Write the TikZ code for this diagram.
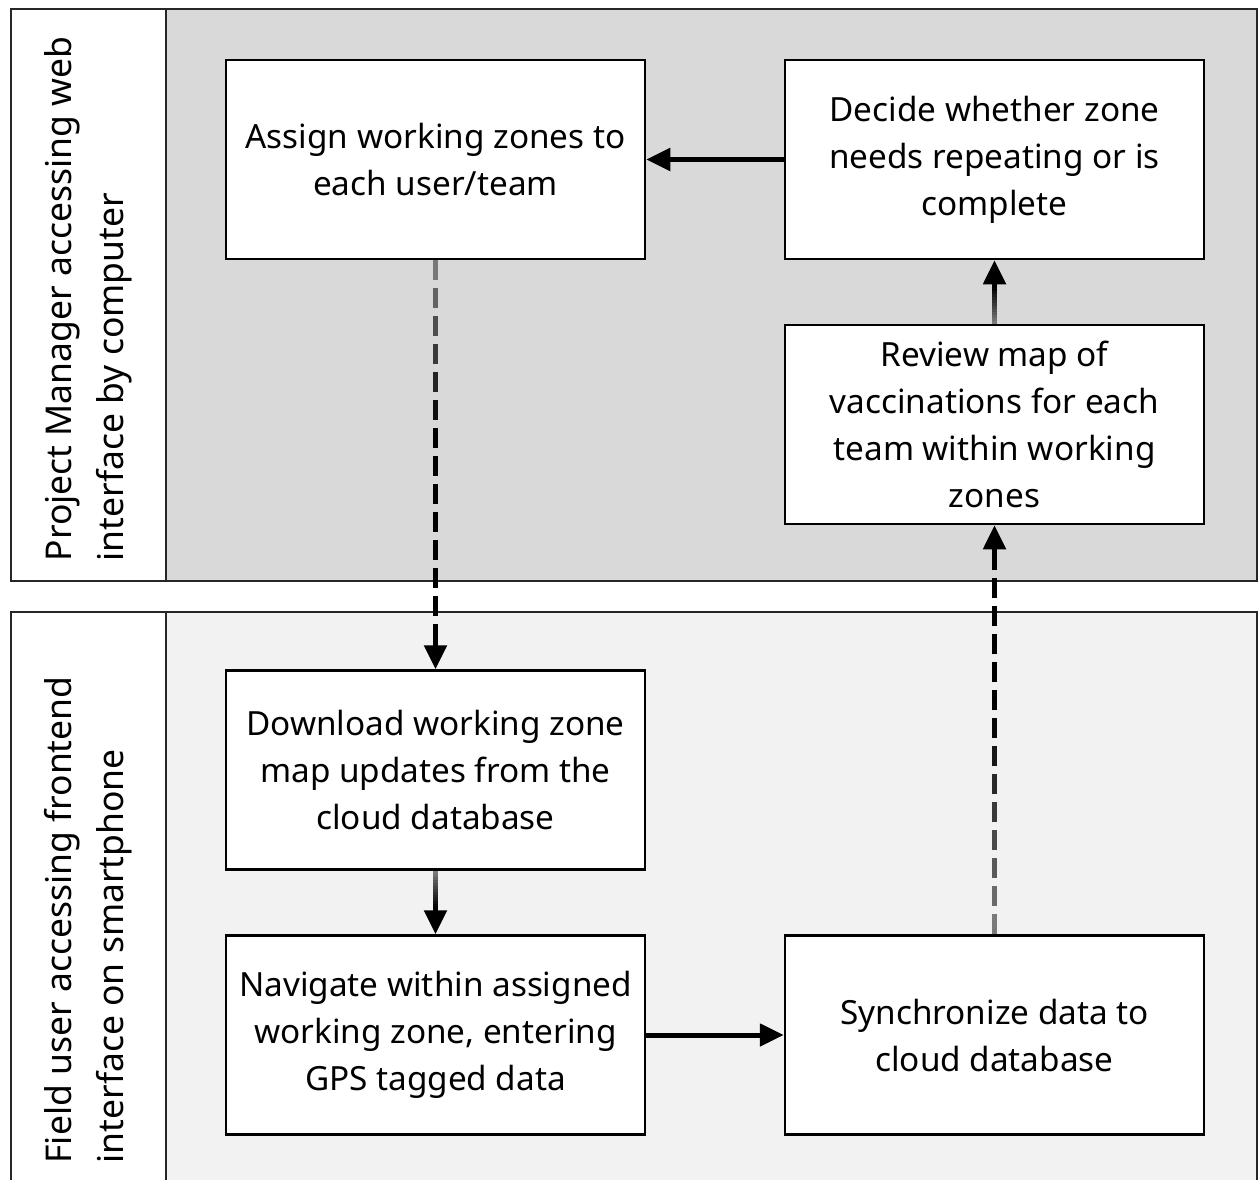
\documentclass[tikz,border=0pt]{standalone}
\usepackage{fontspec}
\setmainfont{Noto Sans}
\usetikzlibrary{calc,arrows.meta}
\definecolor{laneA}{HTML}{D9D9D9}
\definecolor{laneB}{HTML}{F2F2F2}
\newcommand\gshaft[3]{%
  \foreach \k in {0,...,11}{%
    \pgfmathsetmacro\pa{#3*\k/12}%
    \pgfmathsetmacro\pb{#3*(\k+1)/12}%
    \pgfmathsetmacro\pc{50+50*(\k+0.5)/12}%
    \draw[line width=5pt, black!\pc] ($(#1)!\pa pt!(#2)$) -- ($(#1)!\pb pt!(#2)$);
  }}
\newcommand\gdash[3]{%
  \foreach \k in {0,...,13}{%
    \pgfmathsetmacro\pa{28*\k}%
    \pgfmathsetmacro\pb{28*\k+20}%
    \pgfmathsetmacro\pc{min(100,50+((28*\k+10)/#3)*50)}%
    \draw[line width=5pt, black!\pc] ($(#1)!\pa pt!(#2)$) -- ($(#1)!\pb pt!(#2)$);
  }%
  \draw[arrowline] ($(#2)!25pt!(#1)$) -- (#2);}
\begin{document}
\begin{tikzpicture}[x=1pt,y=-1pt,
  box/.style={draw=black, line width=2.5pt, fill=white, minimum width=419pt, minimum height=199pt,
    align=center, inner sep=0pt, font=\fontsize{33.3}{47}\selectfont},
  lanelabel/.style={rotate=90, align=left, inner sep=0pt, font=\fontsize{35.5}{52}\selectfont},
  arrowline/.style={line width=5pt, -{Triangle[length=24pt,width=22pt]}},
  lanebord/.style={draw=black!85, line width=2pt}]
\useasboundingbox (0,0) rectangle (1259,1179);
\clip (0,0) rectangle (1259,1179);
% lanes
\fill[laneA] (166,8.5) rectangle (1257,581);
\draw[lanebord] (10.5,8.5) rectangle (1257,581);
\draw[lanebord] (166,8.5) -- (166,581);
\fill[laneB] (166,612) rectangle (1257,1200);
\draw[lanebord] (10.5,1200) -- (10.5,612) -- (1257,612) -- (1257,1200);
\draw[lanebord] (166,612) -- (166,1200);
\node[lanelabel] (lab1) at (88,299) {Project Manager accessing web\\interface by computer};
\node[lanelabel] (lab2) at (88,920) {Field user accessing frontend\\interface on smartphone};
% boxes
\node[box] (assign) at (435.5,159.5) {Assign working zones to\\each user/team};
\node[box] (decide) at (994.5,159.5) {Decide whether zone\\needs repeating or is\\complete};
\node[box] (review) at (994.5,424.5) {Review map of\\vaccinations for each\\team within working\\zones};
\node[box] (download) at (435.5,770) {Download working zone\\map updates from the\\cloud database};
\node[box] (navigate) at (435.5,1035) {Navigate within assigned\\working zone, entering\\GPS tagged data};
\node[box] (sync) at (994.5,1035) {Synchronize data to\\cloud database};
% connectors
\draw[arrowline] (decide.west) -- (assign.east);
\draw[arrowline] (navigate.east) -- (sync.west);
\draw[arrowline] (review.north) -- (decide.south);
\gshaft{review.north}{decide.south}{36}
\draw[arrowline] (download.south) -- (navigate.north);
\gshaft{download.south}{navigate.north}{36}
\gdash{assign.south}{download.north}{170}
\gdash{sync.north}{review.south}{220}
\end{tikzpicture}
\end{document}
